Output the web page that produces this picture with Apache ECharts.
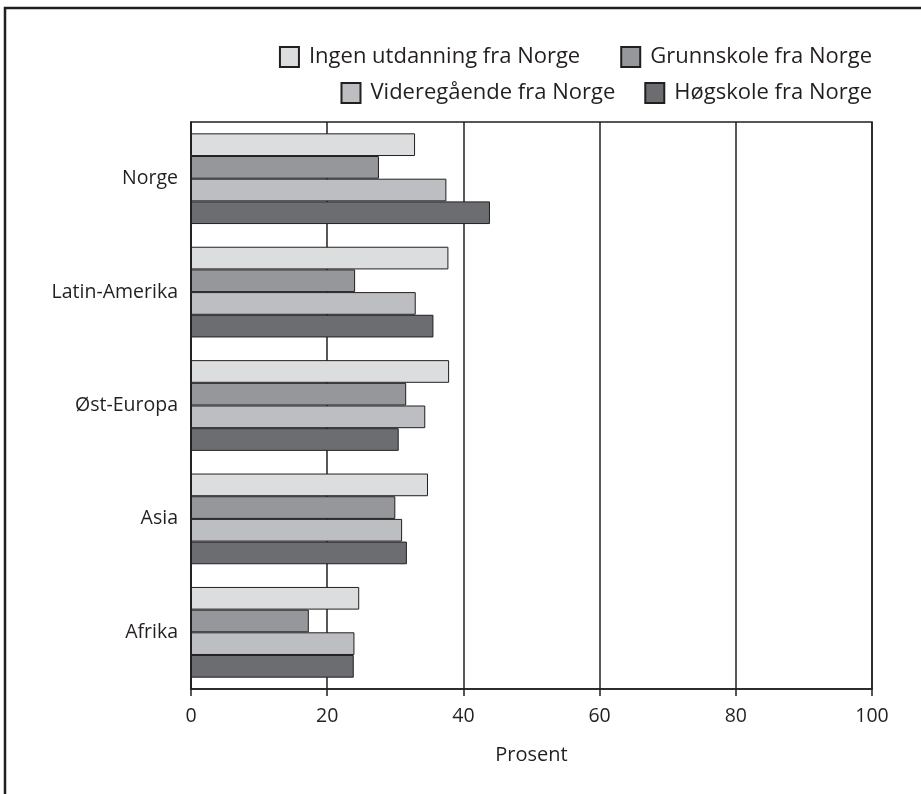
<!DOCTYPE html>
<html>
<head>
<meta charset="utf-8">
<script src="https://cdn.jsdelivr.net/npm/echarts@6/dist/echarts.min.js"></script>
<style>
html,body{margin:0;padding:0;background:#fff;}
#chart{width:921px;height:794px;}
</style>
</head>
<body>
<div id="chart"></div>
<script>
const categories = ['Norge', 'Latin-Amerika', 'Øst-Europa', 'Asia', 'Afrika'];
const seriesNames = ['Ingen utdanning fra Norge', 'Grunnskole fra Norge', 'Videregående fra Norge', 'Høgskole fra Norge'];
const ingen = [32.9, 37.8, 37.9, 34.8, 24.7];
const grunnskole = [27.6, 24.1, 31.6, 30.0, 17.3];
const videregaende = [37.5, 33.0, 34.4, 31.0, 24.0];
const hogskole = [43.9, 35.6, 30.5, 31.7, 23.9];
const xTicks = [0, 20, 40, 60, 80, 100];

const colors = ['#dcdddf', '#96979a', '#bdbec1', '#6c6d71'];
const values = [ingen, grunnskole, videregaende, hogskole];
const ink = '#231f20';
const font = 'Open Sans';

const chart = echarts.init(document.getElementById('chart'));
chart.setOption({
  animation: false,
  backgroundColor: '#fff',
  graphic: [{
    type: 'polyline',
    shape: { points: [[5, 794], [5, 8], [921, 8]] },
    style: { stroke: ink, lineWidth: 2.5, fill: null }
  }],
  legend: [{
    data: [seriesNames[0], seriesNames[1]],
    right: 49, top: 46, padding: 0,
    itemWidth: 19, itemHeight: 20, itemGap: 40,
    icon: 'rect',
    textStyle: { fontFamily: font, fontSize: 22, color: ink, padding: [0, 0, 0, 5] }
  }, {
    data: [seriesNames[2], seriesNames[3]],
    right: 49, top: 82, padding: 0,
    itemWidth: 19, itemHeight: 20, itemGap: 29,
    icon: 'rect',
    textStyle: { fontFamily: font, fontSize: 22, color: ink, padding: [0, 0, 0, 5] }
  }],
  grid: {
    left: 191, right: 49, top: 122, bottom: 105,
    show: true, borderColor: ink, borderWidth: 1.5, backgroundColor: 'transparent'
  },
  xAxis: {
    type: 'value', min: xTicks[0], max: xTicks[xTicks.length - 1], interval: 20,
    name: 'Prosent', nameLocation: 'middle', nameGap: 56,
    nameTextStyle: { fontFamily: font, fontSize: 20, color: ink },
    axisLine: { show: true, lineStyle: { color: ink, width: 1.5 } },
    axisTick: { show: true, length: 7, lineStyle: { color: ink, width: 1.5 } },
    axisLabel: { fontFamily: font, fontSize: 19.5, color: ink, margin: 17 },
    splitLine: { show: true, lineStyle: { color: ink, width: 1.5 } }
  },
  yAxis: {
    type: 'category', data: categories, inverse: true,
    axisLine: { show: true, lineStyle: { color: ink, width: 1.5 } },
    axisTick: { show: false },
    axisLabel: { fontFamily: font, fontSize: 19.5, color: ink, margin: 13 }
  },
  series: seriesNames.map((n, i) => ({
    name: n, type: 'bar', data: values[i],
    barGap: 0, barCategoryGap: '20%',
    itemStyle: { color: colors[i], borderColor: ink, borderWidth: 1 }
  }))
});
</script>
</body>
</html>
